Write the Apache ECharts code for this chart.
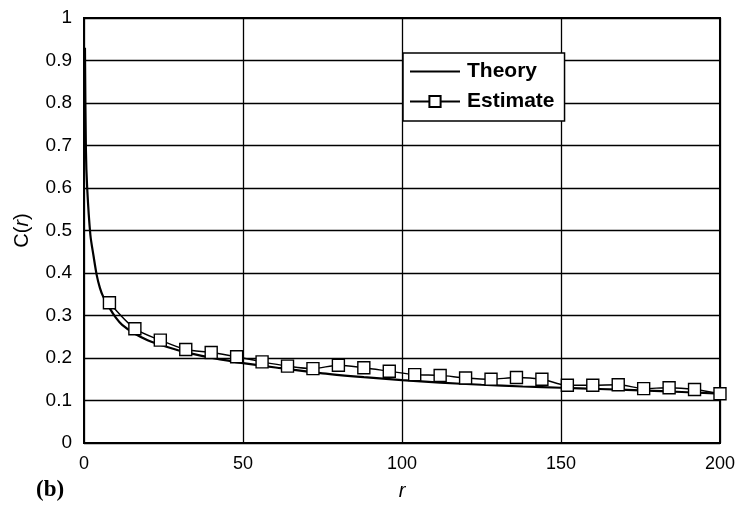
<!DOCTYPE html>
<html>
<head>
<meta charset="utf-8">
<script src="https://cdn.jsdelivr.net/npm/echarts@6/dist/echarts.min.js"></script>
<style>
  html, body { margin: 0; padding: 0; background: #fff; }
  #chart { width: 738px; height: 517px; }
</style>
</head>
<body>
<div id="chart"></div>
<script>
// Correlation C(r) versus lag r
const theoryR = [0.3, 0.6, 1, 2, 3, 4, 5, 6, 8, 10, 12, 16, 20, 24, 31, 40, 50, 62, 75, 88, 100, 112, 125, 138, 150, 162, 175, 188, 200];
const theoryC = [0.93, 0.69, 0.60, 0.49, 0.44, 0.395, 0.365, 0.345, 0.318, 0.295, 0.278, 0.257, 0.242, 0.231, 0.215, 0.201, 0.188, 0.176, 0.164, 0.155, 0.148, 0.142, 0.137, 0.133, 0.130, 0.127, 0.124, 0.120, 0.116];

const estimateR = [8, 16, 24, 32, 40, 48, 56, 64, 72, 80, 88, 96, 104, 112, 120, 128, 136, 144, 152, 160, 168, 176, 184, 192, 200];
const estimateC = [0.330, 0.269, 0.242, 0.220, 0.213, 0.203, 0.191, 0.181, 0.175, 0.183, 0.177, 0.169, 0.161, 0.159, 0.153, 0.150, 0.154, 0.150, 0.136, 0.136, 0.137, 0.128, 0.130, 0.126, 0.116];

const xTicks = [0, 50, 100, 150, 200];

const pairs = (xs, ys) => xs.map((x, i) => [x, ys[i]]);

const chart = echarts.init(document.getElementById('chart'));
chart.setOption({
  animation: false,
  backgroundColor: '#fff',
  title: {
    text: '(b)',
    left: 31,
    top: 474,
    textStyle: { fontFamily: 'Liberation Serif', fontWeight: 'bold', fontSize: 23, color: '#000' }
  },
  grid: {
    left: 84, right: 16, top: 18, bottom: 74,
    show: true, borderColor: '#000', borderWidth: 2
  },
  legend: {
    orient: 'vertical',
    left: 403, top: 53,
    padding: [8, 10, 9, 6],
    itemGap: 9,
    itemWidth: 50,
    itemHeight: 14,
    backgroundColor: '#fff',
    borderColor: '#000',
    borderWidth: 1.5,
    borderRadius: 0,
    textStyle: { fontFamily: 'Liberation Sans', fontWeight: 'bold', fontSize: 21, color: '#000', padding: [0, 0, 0, 2] },
    data: [
      { name: 'Theory', itemStyle: { opacity: 0 } },
      { name: 'Estimate' }
    ]
  },
  xAxis: {
    type: 'value',
    min: 0, max: 200, interval: 50,
    name: 'r',
    nameLocation: 'middle',
    nameGap: 38,
    nameTextStyle: { fontFamily: 'Liberation Sans', fontStyle: 'italic', fontSize: 20, color: '#000' },
    axisLine: { show: true, lineStyle: { color: '#000', width: 2 } },
    axisTick: { show: false },
    axisLabel: {
      fontFamily: 'Liberation Sans', fontSize: 18, color: '#000', margin: 12,
      formatter: v => xTicks.includes(v) ? String(v) : ''
    },
    splitLine: { show: true, lineStyle: { color: '#000', width: 1.3 } }
  },
  yAxis: {
    type: 'value',
    min: 0, max: 1, interval: 0.1,
    name: '{n|C(}{i|r}{n|)}',
    nameLocation: 'middle',
    nameGap: 52,
    nameTextStyle: {
      rich: {
        n: { fontFamily: 'Liberation Sans', fontSize: 20, color: '#000' },
        i: { fontFamily: 'Liberation Sans', fontStyle: 'italic', fontSize: 20, color: '#000' }
      }
    },
    axisLine: { show: true, lineStyle: { color: '#000', width: 2 } },
    axisTick: { show: false },
    axisLabel: {
      fontFamily: 'Liberation Sans', fontSize: 19, color: '#000', margin: 12,
      formatter: v => String(Math.round(v * 10) / 10)
    },
    splitLine: { show: true, lineStyle: { color: '#000', width: 1.3 } }
  },
  series: [
    {
      name: 'Theory',
      type: 'line',
      data: pairs(theoryR, theoryC),
      smooth: 0.3,
      symbol: 'none',
      lineStyle: { color: '#000', width: 2.2 },
      itemStyle: { color: '#000' },
      z: 3
    },
    {
      name: 'Estimate',
      type: 'line',
      data: pairs(estimateR, estimateC),
      smooth: 0.3,
      symbol: 'rect',
      symbolSize: 12,
      lineStyle: { color: '#000', width: 1.4 },
      itemStyle: { color: '#fff', borderColor: '#000', borderWidth: 1.4 },
      z: 4
    }
  ]
});
</script>
</body>
</html>
